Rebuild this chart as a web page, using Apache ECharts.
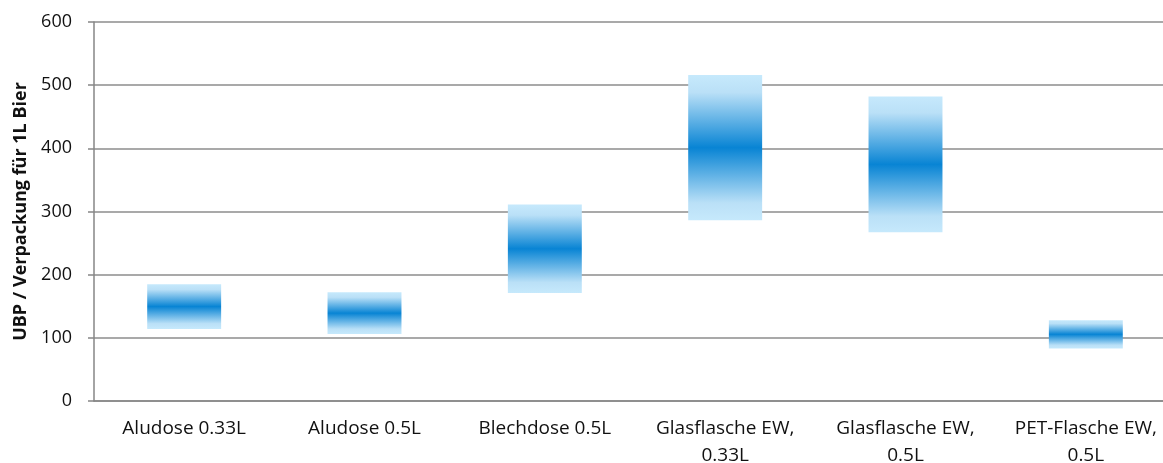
<!DOCTYPE html>
<html>
<head>
<meta charset="utf-8">
<script src="https://cdn.jsdelivr.net/npm/echarts@6/dist/echarts.min.js"></script>
<style>
  html, body { margin: 0; padding: 0; background: #fff; }
  #chart { width: 1163px; height: 463px; }
</style>
</head>
<body>
<div id="chart"></div>
<script>
const categories = [
  "Aludose 0.33L",
  "Aludose 0.5L",
  "Blechdose 0.5L",
  "Glasflasche EW,\n0.33L",
  "Glasflasche EW,\n0.5L",
  "PET-Flasche EW,\n0.5L"
];
// untere und obere Grenze je Verpackung (UBP)
const lowValues = [114, 106, 171, 286, 267, 83];
const highValues = [185, 172, 311, 516, 482, 128];
const yTicks = { min: 0, max: 600, interval: 100 };

const font = "Open Sans";
const rangeValues = highValues.map((h, i) => h - lowValues[i]);

const chart = echarts.init(document.getElementById("chart"));
chart.setOption({
  animation: false,
  grid: { left: 94, right: -13, top: 22, bottom: 62, outerBoundsMode: "none" },
  xAxis: {
    type: "category",
    data: categories,
    axisLine: { lineStyle: { color: "#868686", width: 1.5 } },
    axisTick: { length: 6, lineStyle: { color: "#868686", width: 1.5 } },
    axisLabel: {
      color: "#111",
      fontSize: 19,
      fontFamily: font,
      margin: 14,
      lineHeight: 27,
      interval: 0
    }
  },
  yAxis: {
    type: "value",
    min: yTicks.min,
    max: yTicks.max,
    interval: yTicks.interval,
    name: "UBP / Verpackung für 1L Bier",
    nameLocation: "middle",
    nameGap: 63,
    nameTextStyle: { color: "#111", fontSize: 18, fontWeight: "bold", fontFamily: font },
    axisLine: { show: true, lineStyle: { color: "#868686", width: 1.5 } },
    axisTick: { show: true, length: 6, lineStyle: { color: "#868686", width: 1.5 } },
    axisLabel: { color: "#111", fontSize: 18, fontFamily: font, margin: 22 },
    splitLine: { lineStyle: { color: "#8c8c8c", width: 1.5 } }
  },
  series: [
    {
      type: "bar",
      stack: "range",
      data: lowValues,
      itemStyle: { color: "transparent" },
      barWidth: "41%",
      silent: true
    },
    {
      type: "bar",
      stack: "range",
      data: rangeValues,
      barWidth: "41%",
      itemStyle: {
        color: new echarts.graphic.LinearGradient(0, 0, 0, 1, [
          { offset: 0, color: "#c6e9fc" },
          { offset: 0.12, color: "#bae0f7" },
          { offset: 0.5, color: "#0884d4" },
          { offset: 0.88, color: "#bae0f7" },
          { offset: 1, color: "#c6e9fc" }
        ])
      }
    }
  ]
});
</script>
</body>
</html>
